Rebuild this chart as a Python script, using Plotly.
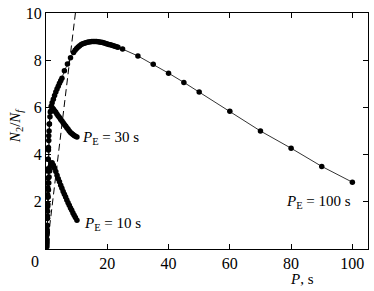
import plotly.graph_objects as go

# ---- data ----
pe10_x = [0.3, 0.35, 0.4, 0.45, 0.5, 0.55, 0.6, 0.7, 0.8, 0.9, 1.0, 1.2, 1.4, 1.7, 2.0,
          2.4, 2.8, 3.2, 3.6, 4.0, 4.4, 4.8, 5.2, 5.6, 6.0, 6.4, 6.8, 7.2, 7.6, 8.0,
          8.4, 8.8, 9.2, 9.6, 10.1]
pe10_y = [0.1, 0.4, 0.7, 1.0, 1.3, 1.6, 1.9, 2.2, 2.5, 2.8, 3.05, 3.3, 3.5, 3.62, 3.65,
          3.55, 3.42, 3.28, 3.12, 2.98, 2.85, 2.7, 2.57, 2.44, 2.32, 2.2, 2.08, 1.96, 1.85, 1.74,
          1.64, 1.53, 1.43, 1.33, 1.22]

pe30_x = [0.3, 0.35, 0.4, 0.45, 0.5, 0.55, 0.6, 0.65, 0.7, 0.75, 0.8, 0.9, 1.0, 1.1, 1.3, 1.6, 2.0,
          2.4, 2.8, 3.2, 3.6, 4.0, 4.4, 4.8, 5.2, 5.6, 6.0, 6.4, 6.8, 7.2, 7.6, 8.0,
          8.4, 8.8, 9.2, 9.6, 10.1]
pe30_y = [0.2, 0.6, 1.0, 1.4, 1.8, 2.2, 2.6, 3.0, 3.4, 3.8, 4.2, 4.6, 5.0, 5.3, 5.6, 5.85, 6.0,
          5.93, 5.86, 5.79, 5.71, 5.64, 5.57, 5.49, 5.42, 5.35, 5.28, 5.21, 5.14, 5.07, 5.0, 4.94,
          4.89, 4.85, 4.81, 4.78, 4.75]

pe100_x = [0.35, 0.4, 0.45, 0.5, 0.55, 0.6, 0.65, 0.7, 0.8, 0.9, 1.1, 1.4, 1.7, 2.0, 2.4, 2.8,
           3.2, 3.6, 4.0, 4.4, 4.8, 5.2, 6.0, 7.0, 8.0, 9.0, 9.5, 10.0, 10.5, 11.0, 11.5, 12.0,
           12.5, 13.0, 13.5, 14.0, 14.5, 15.0, 15.5, 16.0, 16.5, 17.0, 17.5, 18.0, 18.5, 19.0,
           19.5, 20.0, 20.5, 21.0, 21.5, 22.0, 22.5, 23.0, 23.5,
           25, 30, 35, 40, 45, 50, 60, 70, 80, 90, 100]
pe100_y = [0.3, 0.8, 1.3, 1.8, 2.3, 2.8, 3.3, 3.8, 4.3, 4.8, 5.3, 5.8, 6.05, 6.2, 6.35, 6.5,
           6.65, 6.78, 6.9, 7.02, 7.13, 7.24, 7.55, 7.84, 8.1, 8.33, 8.42, 8.5, 8.56, 8.61, 8.66, 8.7,
           8.72, 8.74, 8.76, 8.77, 8.78, 8.79, 8.79, 8.79, 8.79, 8.78, 8.77, 8.76, 8.75, 8.73,
           8.71, 8.69, 8.67, 8.65, 8.63, 8.61, 8.59, 8.57, 8.55,
           8.47, 8.18, 7.83, 7.45, 7.06, 6.65, 5.84, 5.0, 4.27, 3.5, 2.83]

dash_x = [0.3, 9.6]
dash_y = [0.0, 10.0]

x_ticks = [20, 40, 60, 80, 100]
y_ticks = [2, 4, 6, 8, 10]
corner_tick = [0]
corner_label = ["0"]

SERIF = "Liberation Serif, Times New Roman, serif"
FS = 15
TFS = 16
X_RANGE = [0, 105.1]

fig = go.Figure()

fig.add_trace(go.Scatter(x=dash_x, y=dash_y, mode="lines",
                         line=dict(color="black", width=1, dash="7px,4px"),
                         showlegend=False, hoverinfo="skip"))

for xs, ys in [(pe10_x, pe10_y), (pe30_x, pe30_y), (pe100_x, pe100_y)]:
    fig.add_trace(go.Scatter(x=xs, y=ys, mode="lines+markers",
                             line=dict(color="black", width=0.8),
                             marker=dict(color="black", size=5.5),
                             showlegend=False))

# invisible anchor trace so the overlay axis (carrying the shared corner "0") is drawn
fig.add_trace(go.Scatter(x=dash_x[:1], y=dash_y[:1], xaxis="x2", mode="markers",
                         marker=dict(opacity=0), showlegend=False, hoverinfo="skip"))

axis_common = dict(showgrid=False, zeroline=False, showline=True, linecolor="black",
                   linewidth=1, mirror="ticks", ticks="inside", ticklen=5,
                   tickcolor="black", tickwidth=1,
                   tickfont=dict(family=SERIF, size=TFS, color="black"))

fig.update_xaxes(range=X_RANGE, tickvals=x_ticks, ticktext=[str(v) for v in x_ticks],
                 **axis_common)
fig.update_yaxes(range=[0, 10], tickvals=y_ticks, ticktext=[str(v) for v in y_ticks],
                 **axis_common)

fig.update_layout(xaxis2=dict(overlaying="x", side="bottom", anchor="y", range=X_RANGE,
                              tickvals=corner_tick, ticktext=corner_label,
                              ticklabelshift=-11, ticklabelstandoff=1,
                              showline=False, showgrid=False, zeroline=False, ticks="",
                              tickfont=dict(family=SERIF, size=TFS, color="black")))

ann_font = dict(family=SERIF, size=FS, color="black")
annotations = [
    dict(x=11.0, y=4.72, xref="x", yref="y", xanchor="left", yanchor="middle",
         text="<i>P</i><sub>E</sub> = 30 s", showarrow=False, font=ann_font),
    dict(x=11.6, y=1.08, xref="x", yref="y", xanchor="left", yanchor="middle",
         text="<i>P</i><sub>E</sub> = 10 s", showarrow=False, font=ann_font),
    dict(x=100.3, y=1.99, xref="x", yref="y", xanchor="right", yanchor="middle",
         text="<i>P</i><sub>E</sub> = 100 s", showarrow=False, font=ann_font),
    dict(x=303, y=291 - 279, text="<i>P</i>, s", showarrow=False, font=ann_font),
    dict(x=16, y=291 - 125, text="<i>N</i><sub>2</sub>/<i>N<sub>f</sub></i>",
         textangle=-90, showarrow=False, font=ann_font),
]
# convert pixel-positioned annotations to paper coords
L, R, T, B = 46, 5, 11, 42
W, H = 374, 291
pw, ph = W - L - R, H - T - B
for a in annotations[3:]:
    px, py = a["x"], a["y"]
    a["x"] = (px - L) / pw
    a["y"] = (py - B) / ph
    a["xref"] = "paper"
    a["yref"] = "paper"
    a["xanchor"] = "center"
    a["yanchor"] = "middle"

fig.update_layout(width=W, height=H, margin=dict(l=L, r=R, t=T, b=B),
                  plot_bgcolor="white", paper_bgcolor="white",
                  annotations=annotations)

fig.write_html("out.html", config={"displayModeBar": False},
               post_script="document.body.style.margin='0';document.body.style.overflow='hidden';")
